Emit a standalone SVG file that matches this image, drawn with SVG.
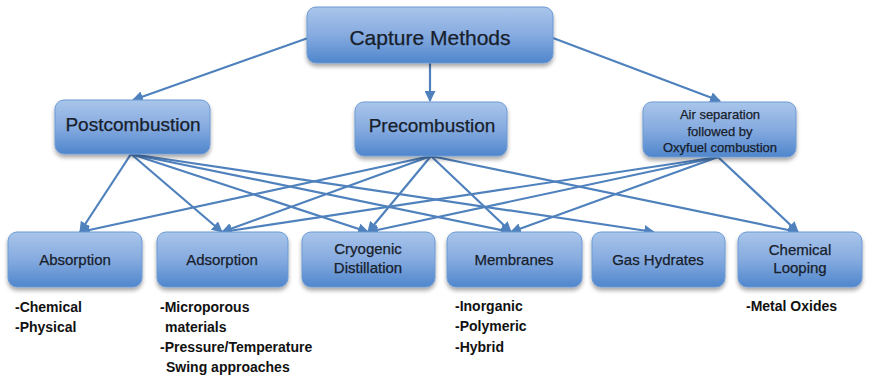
<svg xmlns="http://www.w3.org/2000/svg" width="869" height="380" viewBox="0 0 869 380">
<defs>
<linearGradient id="g" x1="0" y1="0" x2="0" y2="1">
<stop offset="0" stop-color="#a9c5ea"/>
<stop offset="0.5" stop-color="#86abe0"/>
<stop offset="1" stop-color="#4f86cc"/>
</linearGradient>
<filter id="sh" x="-10%" y="-10%" width="120%" height="140%">
<feGaussianBlur in="SourceAlpha" stdDeviation="2"/>
<feOffset dx="0" dy="3" result="b"/>
<feComponentTransfer><feFuncA type="linear" slope="0.35"/></feComponentTransfer>
<feMerge><feMergeNode/><feMergeNode in="SourceGraphic"/></feMerge>
</filter>
<marker id="ah" viewBox="0 0 10 10" refX="9" refY="5" markerWidth="5" markerHeight="5" orient="auto" markerUnits="strokeWidth">
<path d="M0,0 L10,5 L0,10 z" fill="#4f81bd"/>
</marker>
</defs>
<style>
.box{fill:url(#g);stroke:#6d9ad4;stroke-width:1;filter:url(#sh)}
.t{font-family:"Liberation Sans",Arial,sans-serif;fill:#17202b;text-anchor:middle;stroke:#17202b;stroke-width:0.25}
.n{font-family:"Liberation Sans",Arial,sans-serif;fill:#111;font-weight:bold;font-size:14px}
.c line{stroke:#4f81bd;stroke-width:2.2;marker-end:url(#ah)}
</style>
<rect width="869" height="380" fill="#fff"/>
<g class="c" id="connectors">
<line x1="308" y1="38" x2="133" y2="100"/>
<line x1="430" y1="63" x2="430" y2="101"/>
<line x1="553" y1="38" x2="720" y2="101"/>
<line x1="131" y1="154" x2="80" y2="232"/>
<line x1="131" y1="154" x2="222" y2="232"/>
<line x1="131" y1="154" x2="368" y2="232"/>
<line x1="131" y1="154" x2="511" y2="232"/>
<line x1="131" y1="154" x2="654" y2="232"/>
<line x1="431" y1="156" x2="80" y2="232"/>
<line x1="431" y1="156" x2="222" y2="232"/>
<line x1="431" y1="156" x2="368" y2="232"/>
<line x1="431" y1="156" x2="511" y2="232"/>
<line x1="431" y1="156" x2="798" y2="232"/>
<line x1="718" y1="157" x2="222" y2="232"/>
<line x1="718" y1="157" x2="368" y2="232"/>
<line x1="718" y1="157" x2="511" y2="232"/>
<line x1="718" y1="157" x2="798" y2="232"/>
</g>
<g id="capture"><rect class="box" x="307" y="7" width="246" height="56" rx="9"/><text class="t" x="430" y="45" font-size="21">Capture Methods</text></g>
<g id="post"><rect class="box" x="55" y="100" width="155" height="54" rx="9"/><text class="t" x="133" y="131" font-size="19">Postcombustion</text></g>
<g id="pre"><rect class="box" x="355" y="102" width="152" height="54" rx="9"/><text class="t" x="432" y="132" font-size="19">Precombustion</text></g>
<g id="air"><rect class="box" x="643" y="102" width="153" height="55" rx="9"/><text class="t" x="720" y="119" font-size="13">Air separation</text><text class="t" x="720" y="136" font-size="13">followed by</text><text class="t" x="720" y="152" font-size="13">Oxyfuel combustion</text></g>
<g id="absorption"><rect class="box" x="8" y="232" width="134" height="55" rx="9"/><text class="t" x="75" y="265" font-size="15">Absorption</text></g>
<g id="adsorption"><rect class="box" x="157" y="232" width="131" height="55" rx="9"/><text class="t" x="222" y="265" font-size="15">Adsorption</text></g>
<g id="cryogenic"><rect class="box" x="302" y="232" width="133" height="55" rx="9"/><text class="t" x="368" y="254" font-size="15">Cryogenic</text><text class="t" x="368" y="273" font-size="15">Distillation</text></g>
<g id="membranes"><rect class="box" x="447" y="232" width="135" height="55" rx="9"/><text class="t" x="514" y="265" font-size="15">Membranes</text></g>
<g id="hydrates"><rect class="box" x="592" y="232" width="133" height="55" rx="9"/><text class="t" x="658" y="265" font-size="15">Gas Hydrates</text></g>
<g id="looping"><rect class="box" x="738" y="232" width="124" height="55" rx="9"/><text class="t" x="800" y="255" font-size="15">Chemical</text><text class="t" x="800" y="273" font-size="15">Looping</text></g>
<g id="notes">
<text class="n" x="15" y="312">-Chemical</text>
<text class="n" x="15" y="332">-Physical</text>
<text class="n" x="160" y="312">-Microporous</text>
<text class="n" x="165" y="332">materials</text>
<text class="n" x="160" y="352">-Pressure/Temperature</text>
<text class="n" x="166" y="372">Swing approaches</text>
<text class="n" x="455" y="311">-Inorganic</text>
<text class="n" x="455" y="331">-Polymeric</text>
<text class="n" x="455" y="352">-Hybrid</text>
<text class="n" x="746" y="311">-Metal Oxides</text>
</g>
</svg>
